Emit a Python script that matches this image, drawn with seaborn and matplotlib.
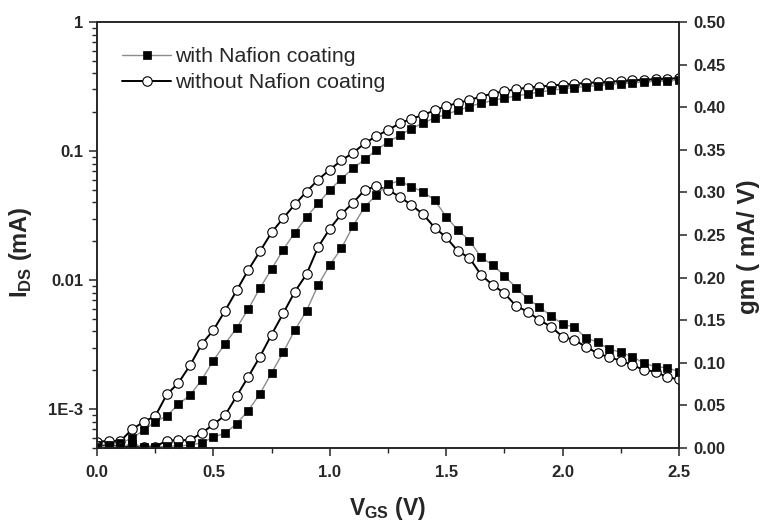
import matplotlib
matplotlib.use("Agg")
import matplotlib.pyplot as plt
import matplotlib.ticker as mticker
import seaborn as sns

# gate voltage (V)
vgs = [0.00, 0.05, 0.10, 0.15, 0.20, 0.25, 0.30, 0.35, 0.40, 0.45,
       0.50, 0.55, 0.60, 0.65, 0.70, 0.75, 0.80, 0.85, 0.90, 0.95,
       1.00, 1.05, 1.10, 1.15, 1.20, 1.25, 1.30, 1.35, 1.40, 1.45,
       1.50, 1.55, 1.60, 1.65, 1.70, 1.75, 1.80, 1.85, 1.90, 1.95,
       2.00, 2.05, 2.10, 2.15, 2.20, 2.25, 2.30, 2.35, 2.40, 2.45, 2.50]

# I_DS (mA), log axis
ids_with = [5.26e-4, 5.30e-4, 5.48e-4, 5.93e-4, 6.87e-4, 7.97e-4, 8.87e-4, 1.093e-3, 1.284e-3, 1.690e-3,
            2.381e-3, 3.21e-3, 4.26e-3, 5.98e-3, 8.67e-3, 0.01217, 0.01724, 0.02335, 0.03079, 0.03932,
            0.04984, 0.0611, 0.0734, 0.0863, 0.1018, 0.1174, 0.1323, 0.1486, 0.1648, 0.1803,
            0.1925, 0.2067, 0.2213, 0.2355, 0.2463, 0.2575, 0.2669, 0.2766, 0.2867, 0.2954,
            0.3035, 0.3106, 0.3162, 0.3213, 0.3271, 0.3331, 0.3379, 0.3427, 0.3470, 0.3507, 0.3539]
ids_without = [5.58e-4, 5.68e-4, 5.65e-4, 6.96e-4, 7.97e-4, 8.82e-4, 1.30e-3, 1.60e-3, 2.19e-3, 3.19e-3,
               4.10e-3, 5.78e-3, 8.32e-3, 0.0120, 0.0167, 0.0234, 0.0302, 0.0386, 0.0484, 0.0601,
               0.0716, 0.0847, 0.0970, 0.1147, 0.1307, 0.1455, 0.1639, 0.1777, 0.1901, 0.2067,
               0.2233, 0.2355, 0.2485, 0.2645, 0.2791, 0.2908, 0.3008, 0.3106, 0.3162, 0.3219,
               0.3278, 0.3325, 0.3367, 0.3409, 0.3446, 0.3489, 0.3533, 0.3570, 0.3602, 0.3634, 0.3667]

# gm (mA/V), right axis
gm_with = [0.0012, 0.0023, 0.0012, 0.0047, 0.0012, 0.0006, 0.0023, 0.0023, 0.0035, 0.0059,
           0.0129, 0.0173, 0.0285, 0.0440, 0.0636, 0.0883, 0.1124, 0.1385, 0.1610, 0.1913,
           0.2148, 0.2344, 0.2606, 0.2832, 0.2969, 0.3099, 0.3134, 0.3067, 0.3008, 0.2911,
           0.2715, 0.2559, 0.2435, 0.2238, 0.2148, 0.2022, 0.1881, 0.1749, 0.1658, 0.1549,
           0.1455, 0.1417, 0.1295, 0.1241, 0.1162, 0.1123, 0.1072, 0.0994, 0.0954, 0.0942, 0.0896]
gm_without = [0.0023, 0.0023, 0.0015, 0.0023, 0.0012, 0.0015, 0.0088, 0.0090, 0.0094, 0.0176,
              0.0276, 0.0384, 0.0610, 0.0837, 0.1072, 0.1332, 0.1581, 0.1835, 0.2040, 0.2359,
              0.2574, 0.2746, 0.2879, 0.3028, 0.3075, 0.3028, 0.2950, 0.2852, 0.2746, 0.2588,
              0.2471, 0.2312, 0.2230, 0.2031, 0.1913, 0.1816, 0.1667, 0.1600, 0.1502, 0.1424,
              0.1306, 0.1268, 0.1189, 0.1111, 0.1065, 0.1025, 0.0974, 0.0915, 0.0896, 0.0830, 0.0806]

sns.set_style("ticks")
plt.rcParams['font.family'] = ['Liberation Sans', 'DejaVu Sans']
plt.rcParams['mathtext.fontset'] = 'custom'
plt.rcParams['mathtext.bf'] = 'Liberation Sans:bold'
plt.rcParams['mathtext.rm'] = 'Liberation Sans:bold'

fig = plt.figure(figsize=(7.63, 5.22), dpi=100)
ax = fig.add_axes([97/763, 1-448/522, (679-97)/763, (448-22)/522])
ax2 = ax.twinx()

sq = dict(marker='s', markersize=6.0, markerfacecolor='black', markeredgecolor='black',
          markeredgewidth=0.5, color='#8c8c8c', linewidth=1.0)
ci = dict(marker='o', markersize=6.8, markerfacecolor='white', markeredgecolor='black',
          markeredgewidth=0.8, color='black', linewidth=1.4)

# circles first so squares sit on top
sns.lineplot(x=vgs, y=ids_without, ax=ax, label='without Nafion coating', **ci)
sns.lineplot(x=vgs, y=ids_with, ax=ax, label='with Nafion coating', **sq)
sns.lineplot(x=vgs, y=gm_without, ax=ax2, legend=False, **ci)
sns.lineplot(x=vgs, y=gm_with, ax=ax2, legend=False, **sq)

ax.set_yscale('log')
ax.set_ylim(5e-4, 1)
ax.set_xlim(0, 2.5)
ax2.set_ylim(0, 0.5)

ax.xaxis.set_major_locator(mticker.MultipleLocator(0.5))
ax.xaxis.set_minor_locator(mticker.MultipleLocator(0.25))
ax.xaxis.set_major_formatter(mticker.FormatStrFormatter('%.1f'))
ax.yaxis.set_major_locator(mticker.FixedLocator([1e-3, 1e-2, 1e-1, 1]))
ax.yaxis.set_major_formatter(mticker.FixedFormatter(['1E-3', '0.01', '0.1', '1']))
ax.yaxis.set_minor_locator(mticker.LogLocator(base=10, subs=range(2, 10)))
ax.yaxis.set_minor_formatter(mticker.NullFormatter())
ax2.yaxis.set_major_locator(mticker.MultipleLocator(0.05))
ax2.yaxis.set_major_formatter(mticker.FormatStrFormatter('%.2f'))

for a in (ax, ax2):
    for s in a.spines.values():
        s.set_linewidth(1.2)
        s.set_visible(True)
    a.tick_params(which='major', length=6, width=1.1, labelsize=12, pad=4)
    a.tick_params(which='minor', length=3.5, width=1.0)
    for lab in a.get_xticklabels() + a.get_yticklabels():
        lab.set_fontweight('bold')
ax.tick_params(axis='y', which='both', left=True, right=False)
ax.tick_params(axis='x', which='both', bottom=True, top=False, pad=6)
ax2.tick_params(axis='y', which='both', right=True)

ax.set_xlabel(r'V$_{\mathbf{GS}}$ (V)', fontsize=16.5, fontweight='bold', labelpad=11)
ax.set_ylabel(r'I$_{\mathbf{DS}}$ (mA)', fontsize=17, fontweight='bold')
ax2.set_ylabel('gm ( mA/ V)', fontsize=17.5, fontweight='bold')
ax.yaxis.set_label_coords((34-97)/582, (448-252)/426)
ax2.yaxis.set_label_coords((737-97)/582, (448-247)/426)

h, l = ax.get_legend_handles_labels()
ax.legend(h[::-1], l[::-1], loc='upper left', frameon=False, fontsize=15.4,
          bbox_to_anchor=(122/763, 1-47/522), bbox_transform=fig.transFigure,
          borderpad=0, borderaxespad=0, handlelength=2.3, handletextpad=0.2,
          labelspacing=0.35)

fig.savefig('out.png', dpi=100)
